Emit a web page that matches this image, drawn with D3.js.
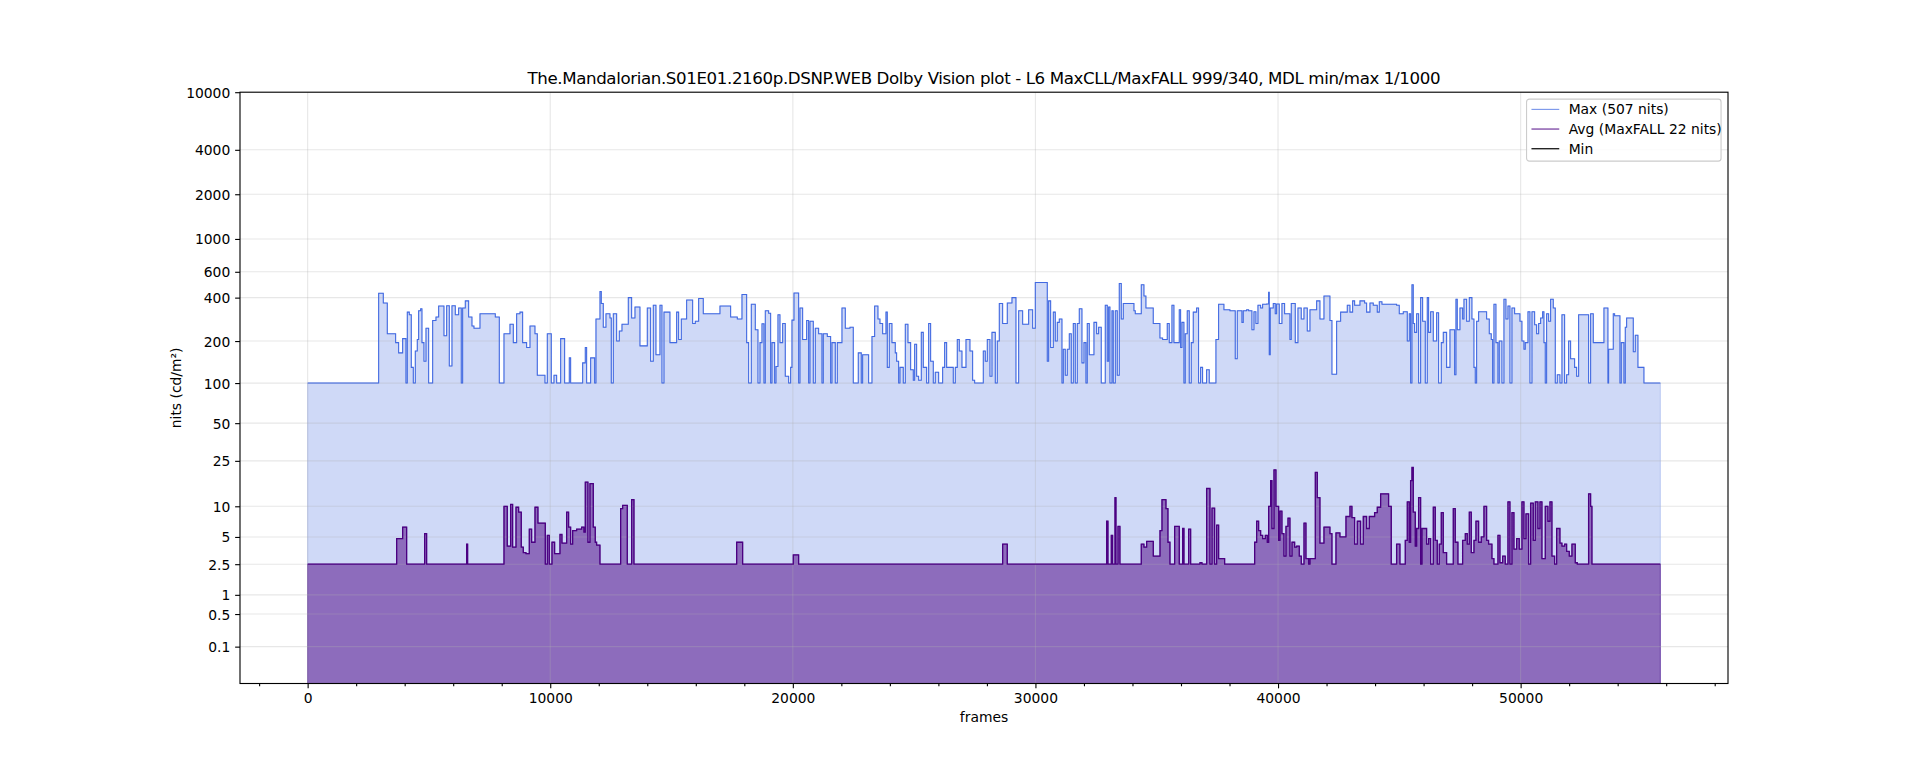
<!DOCTYPE html>
<html>
<head>
<meta charset="utf-8">
<script src="https://cdn.jsdelivr.net/npm/d3@7/dist/d3.min.js"></script>
<style>
  body { margin: 0; background: #fff; }
  svg text { font-family: "DejaVu Sans", sans-serif; fill: #000; }
</style>
</head>
<body>
<div id="chart"></div>
<script>
// --------------- Data ---------------
const TITLE =
  "The.Mandalorian.S01E01.2160p.DSNP.WEB Dolby Vision plot - L6 MaxCLL/MaxFALL 999/340, MDL min/max 1/1000";
const TOTAL_FRAMES = 55760;
const yTickNits = [0.1, 0.5, 1, 2.5, 5, 10, 25, 50, 100, 200, 400, 600, 1000, 2000, 4000, 10000];
const yTickLabels = ["0.1", "0.5", "1", "2.5", "5", "10", "25", "50", "100", "200", "400", "600", "1000", "2000", "4000", "10000"];
const xMajorTicks = [0, 10000, 20000, 30000, 40000, 50000];
const legendLabels = ["Max (507 nits)", "Avg (MaxFALL 22 nits)", "Min"];

// [frame where the shot starts, nits] (step series)
const maxSteps = [
  [0,100],[2927,428],[3119,367],[3284,225],[3627,195],[3751,165],[3916,208],[4053,100],[4108,318],[4191,305],
  [4273,130],[4356,100],[4438,170],[4520,205],[4575,325],[4658,335],[4713,195],[4795,144],[4878,246],[4988,100],
  [5153,278],[5290,294],[5400,350],[5620,218],[5730,352],[5840,133],[5949,352],[6087,305],[6224,340],[6334,100],
  [6389,340],[6499,380],[6636,294],[6774,255],[6856,246],[7104,310],[7461,310],[7736,294],[7901,100],[8093,225],
  [8340,262],[8478,195],[8615,310],[8752,318],[8862,195],[9027,180],[9165,255],[9371,225],[9467,114],[9783,100],
  [9879,225],[10044,100],[10154,114],[10264,100],[10429,208],[10593,100],[10786,152],[10841,100],[11336,140],[11445,180],
  [11500,100],[11665,152],[11830,100],[11885,285],[12050,440],[12105,365],[12187,250],[12297,310],[12462,290],[12517,100],
  [12600,310],[12737,200],[12847,235],[12957,262],[13080,262],[13218,400],[13355,290],[13493,345],
  [13699,185],[14001,340],[14138,144],[14248,355],[14358,160],[14523,355],[14606,100],[14688,318],[14935,195],[15210,318],
  [15293,205],[15403,285],[15622,385],[15870,265],[15980,275],[16117,395],[16309,310],[16996,350],[17436,294],[17711,285],
  [17903,420],[18096,195],[18178,100],[18288,360],[18453,240],[18563,100],[18645,195],[18728,264],[18810,100],[18865,325],
  [19002,312],[19085,100],[19140,195],[19250,100],[19305,132],[19387,305],[19470,195],[19580,265],[19689,112],[19827,100],
  [19909,130],[19964,280],[20047,430],[20239,100],[20294,340],[20404,205],[20569,278],[20651,100],[20706,275],[20844,100],
  [20926,246],[21063,225],[21201,100],[21256,225],[21421,215],[21558,100],[21613,195],[21750,100],[21833,195],[22025,340],
  [22163,246],[22355,250],[22492,100],[22698,165],[22822,100],[22877,160],[23015,160],[23124,100],[23262,215],[23372,350],
  [23509,285],[23592,265],[23702,225],[23839,318],[23894,130],[23976,265],[24086,195],[24223,165],[24278,144],[24361,100],
  [24416,130],[24553,100],[24636,262],[24746,195],[24856,125],[24966,105],[25021,190],[25103,112],[25185,105],[25295,230],
  [25378,130],[25515,100],[25598,265],[25680,144],[25790,100],[25872,120],[26010,100],[26175,130],[26257,195],[26340,130],
  [26614,100],[26697,130],[26779,205],[26862,170],[26972,130],[27137,205],[27301,170],[27411,105],[27494,100],
  [27714,100],[27851,170],[27934,144],[28016,205],[28126,112],[28208,230],[28346,100],[28428,200],[28511,365],[28648,265],
  [28840,368],[29033,400],[29198,100],[29308,325],[29473,262],[29720,330],[29885,246],[29995,507],[30489,144],[30544,380],
  [30627,180],[30737,318],[30819,200],[30901,270],[30984,285],[31094,100],[31149,175],[31231,114],[31313,175],[31396,225],
  [31478,100],[31561,265],[31643,100],[31725,265],[31808,335],[31918,140],[32000,195],[32082,100],[32137,265],[32220,160],
  [32412,270],[32522,225],[32604,250],[32714,100],[32879,355],[32962,144],[33017,345],[33072,100],[33154,325],[33209,100],
  [33292,325],[33374,114],[33456,500],[33539,285],[33621,365],[34061,325],[34116,310],[34363,490],[34473,410],[34555,340],
  [34857,265],[35132,210],[35242,205],[35434,265],[35517,195],[35627,355],[35709,195],[35929,330],[35984,180],[36039,270],
  [36121,100],[36176,225],[36258,325],[36341,100],[36423,195],[36506,318],[36643,340],[36725,100],[36808,130],[36890,100],
  [37055,125],[37165,100],[37440,205],[37550,360],[37770,330],[37907,330],[38017,325],[38237,150],[38320,325],[38512,270],
  [38567,325],[38705,330],[38787,325],[38924,240],[39007,320],[39089,265],[39172,355],[39282,340],[39364,360],[39529,362],
  [39611,435],[39639,160],[39680,340],[39804,365],[39886,310],[39941,362],[40051,265],[40161,365],[40271,310],[40491,205],
  [40546,365],[40711,195],[40821,340],[40958,285],[41068,340],[41206,235],[41316,330],[41508,330],[41591,380],
  [41728,285],[41893,410],[42140,278],[42223,116],[42415,275],[42580,318],[42855,355],[42965,318],[43075,380],[43157,355],
  [43377,380],[43569,367],[43652,318],[43789,367],[43926,355],[44091,318],[44174,375],[44284,360],[44888,355],[44998,310],
  [45163,320],[45328,200],[45410,310],[45465,100],[45520,490],[45575,265],[45630,230],[45713,310],[45795,100],[45878,400],
  [45960,275],[46070,100],[46152,400],[46207,230],[46290,320],[46400,200],[46537,315],[46619,100],[46729,195],[46812,230],
  [46949,130],[47087,240],[47197,240],[47279,115],[47334,390],[47389,240],[47499,340],[47609,285],[47664,390],[47774,275],
  [47884,400],[47993,285],[48076,130],[48131,100],[48186,275],[48268,320],[48461,320],[48598,285],[48708,225],[48790,205],
  [48845,100],[48900,360],[48983,195],[49065,100],[49120,200],[49230,100],[49312,390],[49395,285],[49477,350],[49560,100],
  [49642,340],[49752,310],[49972,275],[50054,200],[50137,175],[50192,195],[50302,320],[50384,100],[50467,320],[50577,260],
  [50659,225],[50742,265],[50824,290],[50906,320],[50961,195],[51016,100],[51071,310],[51154,275],[51236,390],[51346,340],
  [51429,100],[51511,115],[51621,100],[51703,305],[51813,100],[51896,115],[51978,200],[52060,150],[52225,130],[52308,112],
  [52390,305],[52802,100],[52885,310],[52995,195],[53434,340],[53599,100],[53627,175],[53819,310],[53874,300],[54094,100],
  [54149,195],[54259,100],[54314,250],[54369,290],[54644,168],[54726,220],[54836,130],[55083,100]
];

const avgSteps = [
  [0,2.5],[3669,4.8],[3916,6.3],[4081,2.5],[4823,5.4],[4905,2.5],[6554,4.2],[6595,2.5],[8093,10],[8230,4.0],
  [8368,10.4],[8450,3.9],[8588,9.8],[8697,8.8],[8807,3.9],[8890,3.4],[9000,3.3],[9137,6.0],[9233,4.4],[9371,9.8],
  [9494,6.9],[9797,2.5],[9879,5.2],[9961,2.5],[10071,4.4],[10181,3.3],[10401,5.3],[10484,4.3],[10676,8.8],[10758,6.3],
  [10841,4.2],[10923,5.8],[11088,6.0],[11294,6.3],[11390,5.6],[11445,16.5],[11555,4.4],[11637,16],[11775,6.3],[11857,4.4],
  [11912,4.1],[12050,2.5],[12902,9.5],[12984,10.2],[13177,2.5],[13355,11.5],[13452,2.5],
  [17684,4.4],[17931,2.5],[20019,3.2],[20239,2.5],
  [28648,4.2],[28840,2.5],[32935,7.2],[32990,2.5],[33127,5.2],[33182,2.5],[33279,12],[33320,2.5],[33402,6.4],[33484,2.5],
  [34363,4.2],[34473,3.9],[34584,4.5],[34859,3.1],[35134,5.8],[35216,11.5],[35381,9.5],[35463,4.4],[35546,2.5],[35738,6.4],
  [35930,2.5],[36068,6.1],[36123,2.5],[36315,6.0],[36398,2.5],[36782,2.6],[36865,2.5],[37057,14.5],[37195,2.5],[37277,9.6],
  [37387,2.5],[37469,6.6],[37552,2.9],[37799,2.5],[39036,4.4],[39118,7.2],[39201,5.8],[39283,5.2],[39366,4.8],[39476,5.2],
  [39558,4.4],[39613,10],[39695,17],[39750,6.1],[39833,21],[39915,10],[40025,4.6],[40080,9],[40162,5.4],[40245,3.1],
  [40327,6.4],[40410,7.7],[40492,3.1],[40575,4.4],[40685,3.9],[40767,4.0],[40877,3.1],[40960,2.5],[41070,6.9],[41152,2.9],
  [41262,2.5],[41317,2.9],[41537,20],[41619,12],
  [41728,4.3],[41893,6.3],[42140,5.4],[42223,2.5],[42388,5.5],[42552,5.0],[42800,8.0],[42965,10],[43047,7.8],[43157,4.2],
  [43267,7.2],[43404,4.2],[43514,8.0],[43652,6.1],[43762,8.0],[43981,8.7],[44091,9.8],[44229,13],[44558,10],[44668,2.5],
  [44888,4.2],[45026,2.5],[45245,4.6],[45328,11],[45410,4.4],[45465,17],[45520,22],[45575,8.8],[45658,4.0],[45713,6.1],
  [45795,12],[45878,2.5],[45933,6.1],[46125,4.2],[46207,4.8],[46290,2.5],[46400,9.8],[46482,4.6],[46565,2.5],[46647,4.2],
  [46729,8.7],[46812,3.4],[46949,2.5],[47224,9.5],[47306,4.4],[47416,2.5],[47609,4.6],[47719,5.4],[47801,4.2],[47884,8.8],
  [47966,3.4],[48076,4.6],[48158,7.2],[48268,4.4],[48378,5.0],[48488,10],[48598,4.6],[48680,4.2],[48818,2.9],[48900,2.5],
  [49065,5.2],[49148,2.6],[49258,3.1],[49367,2.5],[49477,11],[49560,2.5],[49642,8.7],[49725,3.7],[49835,4.8],[49944,3.7],
  [50054,11],[50137,4.8],[50219,8.5],[50329,2.5],[50412,10.7],[50522,4.6],[50604,11],[50714,6.1],[50796,11],[50879,2.9],
  [51016,10],[51126,7.2],[51209,11],[51291,3.1],[51401,2.5],[51484,6.1],[51621,4.3],[51703,4.0],[51813,4.2],[51896,3.5],
  [52006,3.1],[52115,4.2],[52253,2.6],[52335,2.5],[52802,13],[52885,10],[52940,2.5]
];

const minSteps = [[0, 0]];

// --------------- Constants ---------------
const WIDTH = 1920;
const HEIGHT = 768;
const MARGINS = { top: 92.2, right: 192, bottom: 84.5, left: 240 };
const PT = 100 / 72; // matplotlib points -> px at 100 dpi
const TICK_FONT = 10 * PT;
const TITLE_FONT = 12 * PT;
const TITLE_WIDTH = 913;
const MAJOR_TICK = 3.5 * PT;
const MINOR_TICK = 2 * PT;

const MAX_COLOR = "royalblue";
const AVG_COLOR = "indigo";
const MIN_COLOR = "black";

// SMPTE ST 2084 (PQ) inverse EOTF, nits -> 0..1
function pq(nits) {
  const m1 = 2610 / 16384;
  const m2 = (2523 / 4096) * 128;
  const c1 = 3424 / 4096;
  const c2 = (2413 / 4096) * 32;
  const c3 = (2392 / 4096) * 32;
  const yp = Math.pow(Math.max(nits, 0) / 10000, m1);
  return Math.pow((c1 + c2 * yp) / (1 + c3 * yp), m2);
}

function toPoints(steps) {
  const pts = steps.map(([f, v]) => ({ f, v }));
  pts.push({ f: TOTAL_FRAMES, v: steps[steps.length - 1][1] });
  return pts;
}

function renderChart() {
  const svg = d3
    .select("#chart")
    .append("svg")
    .attr("width", WIDTH)
    .attr("height", HEIGHT);

  svg.append("rect").attr("width", WIDTH).attr("height", HEIGHT).attr("fill", "#fff");

  const left = MARGINS.left;
  const right = WIDTH - MARGINS.right;
  const top = MARGINS.top;
  const bottom = HEIGHT - MARGINS.bottom;

  const X_SCALE = d3
    .scaleLinear()
    .domain([-0.05 * TOTAL_FRAMES, 1.05 * TOTAL_FRAMES])
    .range([left, right]);
  const Y_SCALE = d3.scaleLinear().domain([0, 1]).range([bottom, top]);
  const yOf = (nits) => Y_SCALE(pq(nits));

  svg
    .append("clipPath")
    .attr("id", "plot-clip")
    .append("rect")
    .attr("x", left)
    .attr("y", top)
    .attr("width", right - left)
    .attr("height", bottom - top);

  const plot = svg.append("g").attr("clip-path", "url(#plot-clip)");

  const area = d3
    .area()
    .curve(d3.curveStepAfter)
    .x((d) => X_SCALE(d.f))
    .y0(Y_SCALE(0))
    .y1((d) => yOf(d.v));
  const line = d3
    .line()
    .curve(d3.curveStepAfter)
    .x((d) => X_SCALE(d.f))
    .y((d) => yOf(d.v));

  const maxPts = toPoints(maxSteps);
  const avgPts = toPoints(avgSteps);
  const minPts = toPoints(minSteps);

  // Fills (below grid)
  plot
    .append("path")
    .attr("d", area(maxPts))
    .attr("fill", MAX_COLOR)
    .attr("fill-opacity", 0.25)
    .attr("stroke", MAX_COLOR)
    .attr("stroke-opacity", 0.25)
    .attr("stroke-width", 1);
  plot
    .append("path")
    .attr("d", area(avgPts))
    .attr("fill", AVG_COLOR)
    .attr("fill-opacity", 0.5)
    .attr("stroke", AVG_COLOR)
    .attr("stroke-opacity", 0.5)
    .attr("stroke-width", 1);

  // Grid
  const grid = plot.append("g").attr("stroke", "#b0b0b0").attr("stroke-opacity", 0.3).attr("stroke-width", 0.8 * PT);
  grid
    .selectAll("line.h")
    .data(yTickNits)
    .enter()
    .append("line")
    .attr("x1", left)
    .attr("x2", right)
    .attr("y1", (d) => yOf(d))
    .attr("y2", (d) => yOf(d));
  grid
    .selectAll("line.v")
    .data(xMajorTicks)
    .enter()
    .append("line")
    .attr("x1", (d) => X_SCALE(d))
    .attr("x2", (d) => X_SCALE(d))
    .attr("y1", top)
    .attr("y2", bottom);

  // Lines
  plot
    .append("path")
    .attr("d", line(maxPts))
    .attr("fill", "none")
    .attr("stroke", MAX_COLOR)
    .attr("stroke-width", 1.05);
  plot
    .append("path")
    .attr("d", line(avgPts))
    .attr("fill", "none")
    .attr("stroke", AVG_COLOR)
    .attr("stroke-width", 1.3);
  plot
    .append("path")
    .attr("d", line(minPts))
    .attr("fill", "none")
    .attr("stroke", MIN_COLOR)
    .attr("stroke-width", 1.2);

  // Axes
  const xMinor = d3.range(-2000, 58001, 2000).filter((v) => v % 10000 !== 0);
  const xAxis = svg
    .append("g")
    .attr("transform", `translate(0,${bottom})`)
    .call(
      d3.axisBottom(X_SCALE).tickValues(xMajorTicks).tickSize(MAJOR_TICK).tickPadding(MAJOR_TICK).tickFormat(d3.format("d"))
    );
  const xAxisMinor = svg
    .append("g")
    .attr("transform", `translate(0,${bottom})`)
    .call(d3.axisBottom(X_SCALE).tickValues(xMinor).tickSize(MINOR_TICK).tickFormat(""));

  const yLabelOf = new Map(yTickNits.map((v, i) => [pq(v), yTickLabels[i]]));
  const yAxis = svg
    .append("g")
    .attr("transform", `translate(${left},0)`)
    .call(
      d3
        .axisLeft(Y_SCALE)
        .tickValues(yTickNits.map(pq))
        .tickSize(MAJOR_TICK)
        .tickPadding(MAJOR_TICK)
        .tickFormat((d) => yLabelOf.get(d))
    );

  [xAxis, xAxisMinor, yAxis].forEach((g) => {
    g.select(".domain").remove();
    g.selectAll(".tick line").attr("stroke", "#000").attr("stroke-width", 0.8 * PT);
    g.selectAll(".tick text").attr("font-size", `${TICK_FONT}px`).attr("font-family", "DejaVu Sans");
  });
  yAxis.selectAll(".tick text").attr("dy", "0.36em");

  // Spines
  svg
    .append("rect")
    .attr("x", left)
    .attr("y", top)
    .attr("width", right - left)
    .attr("height", bottom - top)
    .attr("fill", "none")
    .attr("stroke", "#000")
    .attr("stroke-width", 0.8 * PT);

  // Texts
  svg
    .append("text")
    .attr("x", (left + right) / 2)
    .attr("y", top - 6 * PT)
    .attr("text-anchor", "middle")
    .attr("font-size", `${TITLE_FONT}px`)
    .attr("textLength", TITLE_WIDTH)
    .attr("lengthAdjust", "spacing")
    .text(TITLE);
  svg
    .append("text")
    .attr("x", (left + right) / 2)
    .attr("y", 721.5)
    .attr("text-anchor", "middle")
    .attr("font-size", `${TICK_FONT}px`)
    .text("frames");
  svg
    .append("text")
    .attr("transform", `translate(181,${(top + bottom) / 2}) rotate(-90)`)
    .attr("text-anchor", "middle")
    .attr("font-size", `${TICK_FONT}px`)
    .text("nits (cd/m²)");

  // Legend
  const legend = svg.append("g").attr("transform", `translate(${right - 0.5 * TICK_FONT - 194.5},${top + 0.5 * TICK_FONT})`);
  legend
    .append("rect")
    .attr("width", 194.5)
    .attr("height", 62)
    .attr("rx", 2.8)
    .attr("fill", "#fff")
    .attr("fill-opacity", 0.8)
    .attr("stroke", "#cccccc")
    .attr("stroke-width", 0.8 * PT);
  const entries = [
    { label: legendLabels[0], color: MAX_COLOR, opacity: 0.8, width: 1 },
    { label: legendLabels[1], color: AVG_COLOR, opacity: 0.8, width: 1.2 },
    { label: legendLabels[2], color: MIN_COLOR, opacity: 1, width: 1.2 },
  ];
  const rows = legend
    .selectAll("g.row")
    .data(entries)
    .enter()
    .append("g")
    .attr("transform", (_d, i) => `translate(0,${10.2 + i * 19.7})`);
  rows
    .append("line")
    .attr("x1", 4.9)
    .attr("x2", 32.7)
    .attr("stroke", (d) => d.color)
    .attr("stroke-opacity", (d) => d.opacity)
    .attr("stroke-width", (d) => d.width);
  rows
    .append("text")
    .attr("x", 42.1)
    .attr("dy", "0.36em")
    .attr("font-size", `${TICK_FONT}px`)
    .text((d) => d.label);
}

renderChart();
</script>
</body>
</html>
